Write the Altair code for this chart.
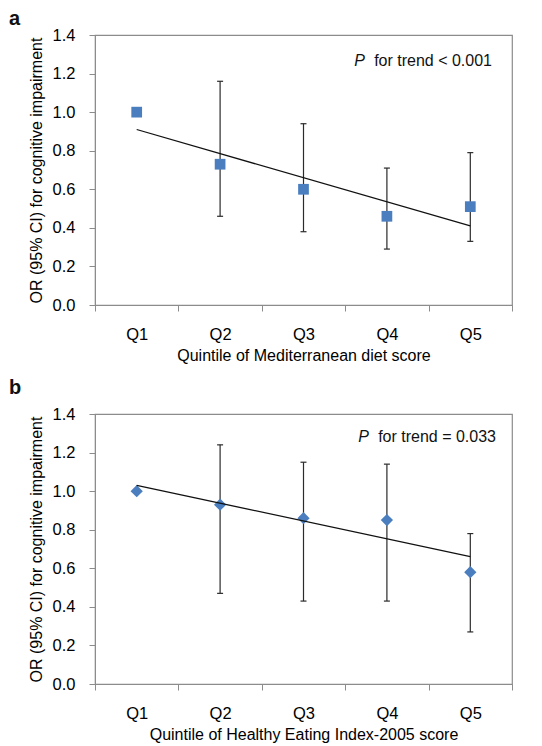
import altair as alt
import pandas as pd

quintiles = ["Q1", "Q2", "Q3", "Q4", "Q5"]

med_or = [1.00, 0.73, 0.60, 0.46, 0.51]
med_lo = [None, 0.46, 0.38, 0.29, 0.33]
med_hi = [None, 1.16, 0.94, 0.71, 0.79]
med_trend = [0.91, 0.41]

hei_or = [1.00, 0.93, 0.86, 0.85, 0.58]
hei_lo = [None, 0.47, 0.43, 0.43, 0.27]
hei_hi = [None, 1.24, 1.15, 1.14, 0.78]
hei_trend = [1.03, 0.66]

y_ticks = [0.0, 0.2, 0.4, 0.6, 0.8, 1.0, 1.2, 1.4]

BLUE = "#4A7EBF"
GRAY = "#8c8c8c"
INK = "#111111"
W, H = 417, 270
YTITLE = "OR (95% CI) for cognitive impairment"


def yenc(field):
    return alt.Y(
        field,
        title=YTITLE,
        scale=alt.Scale(domain=[0, 1.4], nice=False, zero=True),
        axis=alt.Axis(values=y_ticks, format=".1f", tickSize=6,
                      labelPadding=14, titlePadding=8,
                      labelOverlap=False, labelFlush=False, labelBound=False),
    )


def panel(letter, xtitle, ors, lo, hi, trend, shape, msize, ptext, toffset,
          tx, ty):
    df = pd.DataFrame({"q": quintiles, "or": ors, "lo": lo, "hi": hi})
    ci = df.dropna()
    tr = pd.DataFrame({"q": [quintiles[0], quintiles[-1]], "t": trend})
    x = alt.X(
        "q:N",
        title=xtitle,
        sort=quintiles,
        scale=alt.Scale(domain=quintiles, paddingInner=0, paddingOuter=0),
        axis=alt.Axis(tickBand="extent", labelAngle=0, tickSize=6,
                      labelPadding=15, titlePadding=5),
    )

    rule = alt.Chart(ci).mark_rule(color="#2b2b2b", strokeWidth=1.2).encode(
        x=x, y=yenc("lo:Q"), y2="hi:Q"
    )
    cap_lo = alt.Chart(ci).mark_tick(color="#2b2b2b", size=6, thickness=1.2,
                                     orient="horizontal", opacity=1).encode(
        x=x, y=yenc("lo:Q")
    )
    cap_hi = alt.Chart(ci).mark_tick(color="#2b2b2b", size=6, thickness=1.2,
                                     orient="horizontal", opacity=1).encode(
        x=x, y=yenc("hi:Q")
    )
    pts = alt.Chart(df).mark_point(shape=shape, filled=True, size=msize,
                                   color=BLUE, opacity=1).encode(
        x=x, y=yenc("or:Q")
    )
    line = alt.Chart(tr).mark_line(color=INK, strokeWidth=1.3).encode(
        x=x, y=yenc("t:Q")
    )
    txt_df = pd.DataFrame({"p": ["P"], "rest": [ptext]})
    rest = alt.Chart(txt_df).mark_text(align="right", baseline="middle",
                                       fontSize=16, color=INK,
                                       x=tx, y=ty).encode(text="rest:N")
    pital = alt.Chart(txt_df).mark_text(align="right", baseline="middle",
                                        fontSize=16, fontStyle="italic",
                                        color=INK,
                                        x=tx - 127, y=ty).encode(text="p:N")
    return alt.layer(rule, cap_lo, cap_hi, pts, line, rest, pital).properties(
        width=W, height=H,
        title=alt.TitleParams(letter, anchor="start", frame="group",
                              fontSize=20, fontWeight="bold", color=INK,
                              dx=-86, offset=toffset),
    )


a = panel("a", "Quintile of Mediterranean diet score", med_or, med_lo, med_hi,
          med_trend, "square", 115, "for trend < 0.001", -2, 397, 26)
b = panel("b", "Quintile of Healthy Eating Index-2005 score", hei_or, hei_lo,
          hei_hi, hei_trend, "diamond", 150, "for trend = 0.033", 8, 401, 23)

chart = alt.vconcat(a, b, spacing=12).properties(
    padding={"left": 0, "top": 0, "right": 4, "bottom": 0}
).configure(
    font="Liberation Sans",
).configure_view(stroke=GRAY, strokeWidth=1.2).configure_axis(
    domainColor=GRAY, tickColor=GRAY, grid=False,
    labelFontSize=16.5, titleFontSize=16, titleFontWeight="normal",
    labelColor="#000000", titleColor="#000000",
)

chart.save("out.html", embed_options={"renderer": "svg", "actions": False})
